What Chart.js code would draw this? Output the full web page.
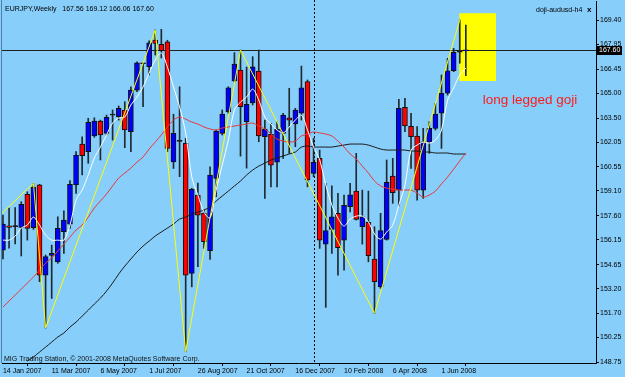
<!DOCTYPE html>
<html>
<head>
<meta charset="utf-8">
<script src="https://cdn.jsdelivr.net/npm/chart.js@4.4.1/dist/chart.umd.min.js"></script>
<style>
    html, body { margin:0; padding:0; background:#87cefa; }
    canvas { display:block; }
</style>
</head>
<body>
<canvas id="chart" width="625" height="377"></canvas>
<script>

/* DATA - EURJPY weekly, one value per week (index 0 = 14 Jan 2007) */

const openPrices = [
    155.53,157.00,156.95,156.90,158.89,156.88,159.47,154.02,155.21,154.82,
    156.64,157.10,159.46,161.93,161.47,162.42,163.32,162.58,163.68,163.58,
    163.99,162.68,165.19,166.78,166.60,168.21,167.96,168.11,160.86,162.09,
    161.97,154.12,158.85,157.76,155.49,159.86,162.58,163.88,165.74,166.40,
    163.28,164.41,166.34,162.37,162.52,160.83,162.58,163.52,163.14,163.79,
    165.70,160.16,161.07,155.88,156.78,157.75,156.13,158.15,159.09,156.94,
    157.20,154.99,153.31,156.18,159.99,159.15,164.15,163.00,162.42,159.15,
    162.04,162.88,163.79,165.00,166.36,167.48,167.56
];

const highPrices = [
    157.64,158.07,158.09,158.45,159.05,159.56,159.50,155.23,155.83,157.54,
    157.90,159.72,161.47,162.37,163.49,163.52,163.38,163.68,163.99,164.23,
    164.49,165.39,166.90,166.82,168.17,168.82,168.86,168.20,163.73,165.39,
    162.28,159.26,159.58,157.95,160.56,162.78,163.99,165.39,167.45,167.61,
    166.58,167.21,167.61,163.38,163.18,163.28,163.79,165.30,164.09,166.64,
    165.80,162.28,161.57,159.56,159.41,158.96,158.85,159.56,161.37,159.15,
    159.09,156.94,157.75,160.97,161.07,164.63,164.69,163.79,162.98,162.88,
    163.28,164.39,166.10,167.11,167.71,169.42,169.12
];

const lowPrices = [
    154.99,155.65,155.90,155.17,156.13,156.78,153.62,150.82,152.61,154.73,
    155.33,156.84,158.95,160.06,160.77,162.34,160.97,162.48,162.17,163.38,
    161.71,161.47,165.09,164.19,166.10,167.31,167.13,161.47,160.46,159.96,
    149.39,153.31,154.52,155.63,154.97,158.75,162.48,163.79,165.68,161.20,
    160.48,164.29,162.07,158.65,159.35,159.35,161.07,161.37,161.77,163.38,
    159.35,159.96,155.63,152.07,155.33,154.02,154.32,157.84,157.34,155.89,
    154.82,151.71,153.22,156.13,158.35,158.19,162.68,160.46,158.55,158.65,
    161.37,162.78,161.67,164.89,166.30,166.81,166.06
];

const closePrices = [
    157.10,156.90,156.95,158.29,156.84,159.32,154.02,155.13,155.33,156.84,
    157.34,159.50,161.27,161.23,163.24,163.32,162.48,163.55,163.68,164.09,
    162.78,165.19,166.84,166.78,168.05,168.01,167.57,161.67,162.58,162.09,
    154.02,159.20,157.64,156.03,160.06,162.72,163.74,165.33,166.76,164.19,
    164.33,166.60,162.42,162.83,160.66,162.82,163.68,163.38,163.99,165.33,
    159.76,160.83,156.13,156.70,157.54,155.67,158.23,158.87,157.38,157.54,
    155.19,153.62,156.70,159.62,158.99,164.09,163.02,162.37,159.15,162.07,
    162.88,163.74,165.00,166.36,167.47,167.48,167.60
];

/* moving averages (white = fast, red = medium, black = slow) */

const fastMa = [
    156.13,156.13,156.37,156.86,157.04,157.52,157.04,156.44,156.13,156.13,
    156.13,157.04,158.55,159.15,160.06,161.09,161.75,162.48,163.20,163.50,
    163.56,164.29,164.77,165.38,166.22,167.01,167.43,166.58,165.38,164.17,
    162.60,159.94,158.85,157.82,157.46,159.15,160.66,162.17,163.99,164.47,
    164.77,165.25,164.59,163.56,163.14,162.78,162.60,162.96,163.38,163.68,
    162.78,161.75,160.97,159.46,158.25,157.46,156.98,157.40,157.58,157.58,
    157.22,156.50,156.19,156.62,157.04,158.25,159.46,161.57,161.87,162.05,
    161.99,162.17,162.78,164.59,165.32,166.10,166.52
];

const midMa = [
    152.09,152.45,152.81,153.17,153.54,153.90,154.32,154.74,155.05,155.47,
    155.89,156.31,156.74,157.04,157.52,158.07,158.49,158.91,159.40,159.88,
    160.18,160.48,160.84,161.15,161.63,162.05,162.48,162.96,163.38,163.56,
    163.44,163.26,163.14,162.96,162.84,162.78,162.90,162.96,163.02,163.08,
    163.14,163.20,163.02,162.84,162.54,162.23,162.11,162.05,162.11,162.42,
    162.54,162.66,162.60,162.54,162.42,162.11,161.75,161.33,161.03,160.60,
    160.18,159.70,159.40,159.27,159.21,159.15,159.15,159.15,158.97,158.73,
    158.85,159.09,159.52,159.94,160.42,160.91,161.39
];

const slowMa = [
    null,  null,  null,  null,  148.83,149.07,149.37,149.67,149.97,150.28,
    150.52,150.88,151.18,151.54,151.90,152.27,152.63,153.05,153.54,154.08,
    154.56,154.99,155.41,155.77,156.07,156.38,156.62,156.86,157.10,157.40,
    157.52,157.70,157.82,157.95,158.13,158.49,158.79,159.09,159.40,159.70,
    160.06,160.36,160.60,160.78,160.97,161.09,161.21,161.33,161.45,161.75,
    161.81,161.75,161.75,161.75,161.75,161.81,161.87,161.93,161.93,161.93,
    161.87,161.75,161.63,161.57,161.57,161.57,161.57,161.51,161.51,161.45,
    161.45,161.39,161.39,161.39,161.33,161.33,161.33
];

/* zigzag pivots (week index, price) */

const zigzagWeeks  = [-0.5, 5, 7, 25, 30, 39, 61, 75];
const zigzagPrices = [157.64, 159.56, 150.82, 168.82, 149.39, 167.61, 151.71, 169.42];

/* axis labels */

const dateWeeks  = [0, 8, 16, 24, 32, 40, 48, 56, 64, 72];
const dateLabels = [
    "14 Jan 2007","11 Mar 2007","6 May 2007","1 Jul 2007","26 Aug 2007",
    "21 Oct 2007","16 Dec 2007","10 Feb 2008","6 Apr 2008","1 Jun 2008"
];

const priceLabels = [
    "148.75","150.25","151.70","153.20","154.65","156.15","157.60","159.10",
    "160.55","162.05","163.50","165.00","166.45","167.95","169.40"
];

/* BUILD */

const weeks = openPrices.map((v, i) => i);
const lastClose = closePrices[closePrices.length - 1];

const wickData = weeks.map(i => ({ x: i, y: [lowPrices[i], highPrices[i]] }));
const bodyData = weeks.map(i => ({ x: i, y: [openPrices[i], closePrices[i]] }));

const bodyColors = weeks.map(i => {
    if (closePrices[i] > openPrices[i]) return '#0000ff';
    if (closePrices[i] < openPrices[i]) return '#ff0000';
    return '#1c1c1c';
});

function toPoints(arr){
    return arr.map((v, i) => ({ x: i, y: v })).filter(p => p.y !== null);
}

const zigzagData = zigzagWeeks.map((w, i) => ({ x: w, y: zigzagPrices[i] }));

const smallFont = { family: '"Liberation Sans", Arial, sans-serif', size: 7 };

/* DECORATION */

const chartDecor = {

    id: 'chartDecor',

    beforeDraw(chart){
        const ctx = chart.ctx;
        ctx.save();
        ctx.fillStyle = '#87cefa';
        ctx.fillRect(0, 0, chart.width, chart.height);
        ctx.restore();
    },

    beforeDatasetsDraw(chart){
        const { ctx, chartArea: a, scales: { x, y } } = chart;
        ctx.save();

        // highlight box around the doji
        const bx0 = x.getPixelForValue(74.93), bx1 = x.getPixelForValue(80.95);
        const by0 = y.getPixelForValue(169.83), by1 = y.getPixelForValue(165.74);
        ctx.fillStyle = '#ffff00';
        ctx.fillRect(bx0, by0, bx1 - bx0, by1 - by0);

        // period separator (first week of 2008)
        const sx = Math.round(x.getPixelForValue(51)) + 0.5;
        ctx.strokeStyle = '#000';
        ctx.lineWidth = 1;
        ctx.setLineDash([2, 2]);
        ctx.beginPath();
        ctx.moveTo(sx, 0);
        ctx.lineTo(sx, a.bottom);
        ctx.stroke();
        ctx.setLineDash([]);

        // bid line
        const bidY = Math.round(y.getPixelForValue(lastClose)) + 0.5;
        ctx.strokeStyle = '#202020';
        ctx.beginPath();
        ctx.moveTo(a.left, bidY);
        ctx.lineTo(a.right, bidY);
        ctx.stroke();

        // left frame
        ctx.strokeStyle = '#4f7fa6';
        ctx.beginPath();
        ctx.moveTo(a.left - 0.5, 0);
        ctx.lineTo(a.left - 0.5, a.bottom);
        ctx.stroke();

        ctx.restore();
    },

    afterDraw(chart){
        const { ctx, chartArea: a, scales: { x, y } } = chart;
        ctx.save();
        ctx.textBaseline = 'alphabetic';
        ctx.textAlign = 'left';
        ctx.font = '7px "Liberation Sans", Arial, sans-serif';
        ctx.fillStyle = '#000';

        ctx.fillText('EURJPY,Weekly   ' + [openPrices[76], highPrices[76], lowPrices[76], closePrices[76]].map(v => v.toFixed(2)).join(' '), 5, 11);
        ctx.fillText('doji-audusd-h4', 536, 11.5);
        ctx.font = 'bold 8px "Liberation Sans", Arial, sans-serif';
        ctx.fillText('x', 587, 11.5);

        ctx.font = '7px "Liberation Sans", Arial, sans-serif';
        ctx.fillStyle = '#111';
        ctx.fillText('MIG Trading Station, \u00a9 2001-2008 MetaQuotes Software Corp.', 4, 360.5);

        // annotation
        ctx.font = '13.5px "Liberation Sans", Arial, sans-serif';
        ctx.fillStyle = '#ff1a1a';
        ctx.fillText('long legged goji', x.getPixelForValue(78.77), y.getPixelForValue(164.35));

        // price tag on the scale
        const bidY = Math.round(y.getPixelForValue(lastClose));
        ctx.fillStyle = '#000';
        ctx.fillRect(a.right + 1, bidY - 4, 25, 9);
        ctx.fillStyle = '#fff';
        ctx.font = '7px "Liberation Sans", Arial, sans-serif';
        ctx.textBaseline = 'middle';
        ctx.fillText(lastClose.toFixed(2), a.right + 3, bidY + 0.5);

        ctx.restore();
    }

};

/* CHART */

const priceChart = new Chart(
document.getElementById('chart'),{

    type:'bar',

    data:{
        datasets:[
            {
                type:'line',
                label:'ZigZag',
                data:zigzagData,
                borderColor:'#ffff00',
                borderWidth:1,
                pointRadius:0,
                tension:0,
                order:0
            },
            {
                type:'line',
                label:'MA fast',
                data:toPoints(fastMa),
                borderColor:'#ffffff',
                borderWidth:1,
                pointRadius:0,
                tension:0.3,
                order:1
            },
            {
                type:'line',
                label:'MA medium',
                data:toPoints(midMa),
                borderColor:'#e8383a',
                borderWidth:1,
                pointRadius:0,
                tension:0.3,
                order:1
            },
            {
                type:'line',
                label:'MA slow',
                data:toPoints(slowMa),
                borderColor:'#1a1a1a',
                borderWidth:1,
                pointRadius:0,
                tension:0.3,
                order:1
            },
            {
                label:'Body',
                data:bodyData,
                backgroundColor:bodyColors,
                borderColor:'#101010',
                borderWidth:1,
                borderSkipped:false,
                barThickness:5,
                minBarLength:1,
                grouped:false,
                order:2
            },
            {
                label:'Wick',
                data:wickData,
                backgroundColor:'#1e2a30',
                borderWidth:0,
                barThickness:1,
                grouped:false,
                order:3
            }
        ]
    },

    options:{
        responsive:false,
        animation:false,
        devicePixelRatio:1,
        layout:{ padding:{ left:2, top:1, right:0, bottom:0 } },
        plugins:{
            legend:{ display:false },
            tooltip:{ enabled:false }
        },
        scales:{
            x:{
                type:'linear',
                min:-0.16,
                max:97.37,
                offset:false,
                grid:{ drawOnChartArea:false, tickLength:3, color:'#000' },
                border:{ display:true, color:'#000' },
                ticks:{
                    autoSkip:false,
                    maxRotation:0,
                    align:'start',
                    padding:1,
                    color:'#000',
                    font:smallFont,
                    callback:(v, i) => dateLabels[i]
                },
                afterBuildTicks:s => { s.ticks = dateWeeks.map(w => ({ value:w })); },
                afterFit:s => { s.height = 14; s.paddingLeft = 0; s.paddingRight = 0; }
            },
            y:{
                type:'linear',
                position:'right',
                min:148.71,
                max:170.57,
                grid:{ drawOnChartArea:false, tickLength:3, color:'#000' },
                border:{ display:true, color:'#000' },
                ticks:{
                    autoSkip:false,
                    padding:1,
                    color:'#000',
                    font:smallFont,
                    callback:(v, i) => priceLabels[i]
                },
                afterBuildTicks:s => { s.ticks = priceLabels.map(t => ({ value:parseFloat(t) })); },
                afterFit:s => { s.width = 29; s.paddingTop = 0; s.paddingBottom = 0; }
            }
        }
    },

    plugins:[chartDecor]

});

</script>
</body>
</html>
